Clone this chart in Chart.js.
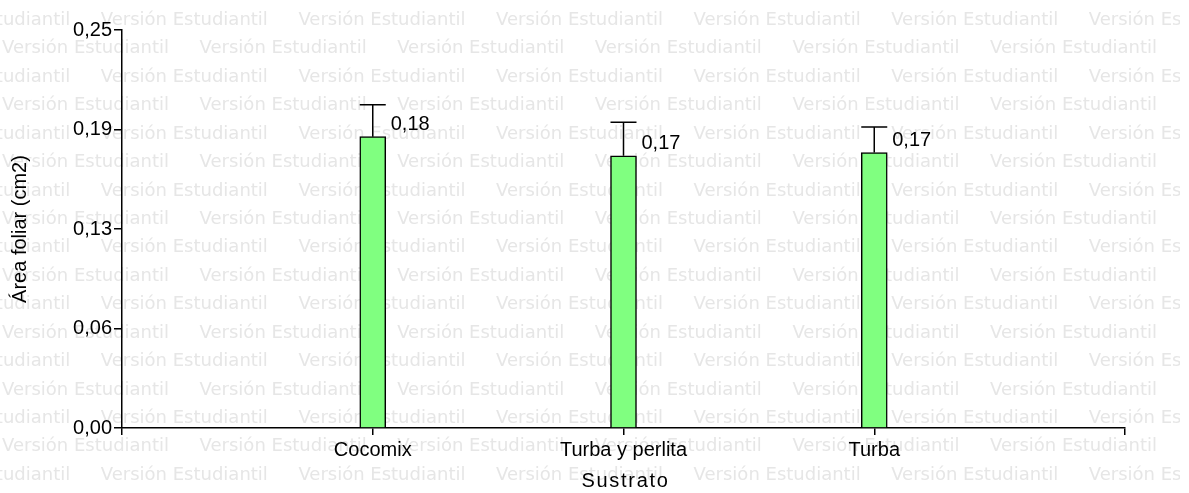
<!DOCTYPE html>
<html>
<head>
<meta charset="utf-8">
<script src="https://cdn.jsdelivr.net/npm/chart.js@4"></script>
<style>
  body { margin: 0; background: #fff; }
  #wrap { width: 1189px; height: 493px; position: relative; }
</style>
</head>
<body>
<div id="wrap"><canvas id="chart"></canvas></div>
<script>
const categories = ['Cocomix', 'Turba y perlita', 'Turba'];
const areaFoliar = [0.183, 0.171, 0.173];
const errorEstandar = [0.020, 0.021, 0.016];
const yTicks = [0, 0.0625, 0.125, 0.1875, 0.25];
const yTickLabels = ['0,00', '0,06', '0,13', '0,19', '0,25'];
const yTitle = 'Área foliar (cm2)';
const xTitle = 'Sustrato';
const marcaAgua = 'Versión Estudiantil';

const FONT = '"Liberation Sans", Arial, sans-serif';

function formatValor(v) {
  return v.toFixed(2).replace('.', ',');
}

// fondo con la marca de agua repetida
const marcaAguaPlugin = {
  id: 'marcaAgua',
  beforeDraw(chart) {
    const { ctx, width, height } = chart;
    ctx.save();
    ctx.fillStyle = '#fff';
    ctx.fillRect(0, 0, width, height);
    ctx.beginPath();
    ctx.rect(0, 0, 1180, height);
    ctx.clip();
    ctx.font = '18px "DejaVu Sans", Verdana, sans-serif';
    ctx.fillStyle = '#e6e6e6';
    ctx.textBaseline = 'alphabetic';
    const paso = 197.6;
    for (let k = 0; k < 17; k++) {
      const y = 25 + 28.43 * k;
      let x = k % 2 === 0 ? 100.8 - paso : 2;
      for (; x < width; x += paso) ctx.fillText(marcaAgua, x, y);
    }
    ctx.restore();
  },
};

// barras de error (solo hacia arriba) y etiquetas de valor
const errorPlugin = {
  id: 'errores',
  afterDatasetsDraw(chart) {
    const { ctx } = chart;
    const yScale = chart.scales.y;
    const meta = chart.getDatasetMeta(0);
    ctx.save();
    ctx.strokeStyle = '#000';
    ctx.lineWidth = 1.5;
    categories.forEach((c, i) => {
      const el = meta.data[i + 1];
      const v = areaFoliar[i];
      const top = yScale.getPixelForValue(v + errorEstandar[i]);
      ctx.beginPath();
      ctx.moveTo(el.x, el.y);
      ctx.lineTo(el.x, top);
      ctx.moveTo(el.x - 13, top);
      ctx.lineTo(el.x + 13, top);
      ctx.stroke();
      ctx.fillStyle = '#000';
      ctx.font = '20px ' + FONT;
      ctx.textAlign = 'left';
      ctx.textBaseline = 'middle';
      ctx.fillText(formatValor(v), el.x + 18, el.y - 12);
    });
    ctx.restore();
  },
};

// títulos de los ejes
const titulosPlugin = {
  id: 'titulos',
  afterDraw(chart) {
    const { ctx, chartArea } = chart;
    ctx.save();
    ctx.fillStyle = '#000';
    ctx.font = '20px ' + FONT;
    ctx.textAlign = 'center';
    ctx.textBaseline = 'middle';
    ctx.translate(20, 229);
    ctx.rotate(-Math.PI / 2);
    ctx.fillText(yTitle, 0, 0);
    ctx.restore();

    ctx.save();
    ctx.fillStyle = '#000';
    ctx.font = '20px ' + FONT;
    ctx.letterSpacing = '1.7px';
    ctx.textAlign = 'center';
    ctx.textBaseline = 'alphabetic';
    ctx.fillText(xTitle, (chartArea.left + chartArea.right) / 2 + 2, 487);
    ctx.restore();
  },
};

Chart.defaults.font.family = FONT;
Chart.defaults.font.size = 20;
Chart.defaults.color = '#000';

new Chart(document.getElementById('chart'), {
  type: 'bar',
  data: {
    labels: ['', ...categories, ''],
    datasets: [{
      data: [null, ...areaFoliar, null],
      backgroundColor: '#80ff80',
      borderColor: '#000',
      borderWidth: 1.5,
      barThickness: 26,
    }],
  },
  options: {
    responsive: true,
    maintainAspectRatio: false,
    animation: false,
    layout: { padding: { top: 30, right: 64, left: 0, bottom: 0 } },
    plugins: {
      legend: { display: false },
      tooltip: { enabled: false },
    },
    scales: {
      x: {
        offset: false,
        grid: { display: true, drawOnChartArea: false, drawTicks: true, tickLength: 7, color: '#000', lineWidth: 1.5, offset: false },
        border: { display: true, color: '#000', width: 1.5 },
        ticks: { padding: 3, maxRotation: 0, autoSkip: false, font: { size: 20 } },
        afterFit(scale) { scale.height = 65; },
      },
      y: {
        min: 0,
        max: 0.25,
        afterBuildTicks(scale) { scale.ticks = yTicks.map((v) => ({ value: v })); },
        grid: { display: true, drawOnChartArea: false, drawTicks: true, tickLength: 8, color: '#000', lineWidth: 1.5 },
        border: { display: true, color: '#000', width: 1.5 },
        ticks: { padding: 2, font: { size: 20 }, callback: (v, i) => yTickLabels[i] },
        afterFit(scale) { scale.width = 122; },
      },
    },
  },
  plugins: [marcaAguaPlugin, errorPlugin, titulosPlugin],
});
</script>
</body>
</html>
